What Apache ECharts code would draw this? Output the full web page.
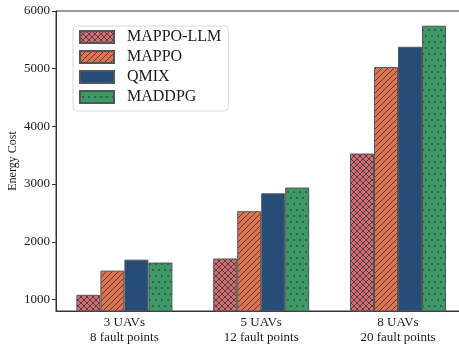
<!DOCTYPE html>
<html>
<head>
<meta charset="utf-8">
<script src="https://cdn.jsdelivr.net/npm/echarts@6/dist/echarts.min.js"></script>
<style>
html,body{margin:0;padding:0;background:#fff;}
#chart{width:459px;height:345px;}
</style>
</head>
<body>
<div id="chart"></div>
<script>
const categories = ['3 UAVs\n8 fault points', '5 UAVs\n12 fault points', '8 UAVs\n20 fault points'];
const seriesNames = ['MAPPO-LLM', 'MAPPO', 'QMIX', 'MADDPG'];
const mappoLLM = [1080, 1710, 3530];
const mappo = [1500, 2530, 5030];
const qmix = [1690, 2840, 5380];
const maddpg = [1640, 2940, 5745];
const yTicks = [1000, 2000, 3000, 4000, 5000, 6000];
const yAxisName = 'Energy Cost';

const FONT = '"Liberation Serif", "DejaVu Serif", serif';
const HATCH = '#454545';

function makePattern(bg, type) {
  const c = document.createElement('canvas');
  let w = 6, h = 6;
  if (type === '\\') { w = 12; h = 12; }
  if (type === '.') { w = 6; h = 12; }
  c.width = w; c.height = h;
  const ctx = c.getContext('2d');
  ctx.fillStyle = bg;
  ctx.fillRect(0, 0, w, h);
  ctx.strokeStyle = HATCH;
  ctx.fillStyle = HATCH;
  ctx.lineWidth = 1;
  if (type === 'x' || type === '/') {
    for (let k = -1; k <= 1; k++) {
      ctx.beginPath();
      ctx.moveTo(k * w, h); ctx.lineTo(k * w + w, 0);
      ctx.stroke();
    }
  }
  if (type === 'x' || type === '\\') {
    for (let k = -1; k <= 1; k++) {
      ctx.beginPath();
      ctx.moveTo(k * w, 0); ctx.lineTo(k * w + w, h);
      ctx.stroke();
    }
  }
  if (type === '.') {
    const pts = [[0, 0], [w, 0], [0, h], [w, h], [w / 2, h / 2]];
    pts.forEach(p => {
      ctx.beginPath();
      ctx.arc(p[0], p[1], 1.0, 0, Math.PI * 2);
      ctx.fill();
    });
  }
  return { image: c, repeat: 'repeat' };
}

const colors = ['#D8696F', '#E2714E', '#234E7C', '#3B9A66'];
const hatches = ['x', '/', '\\', '.'];
const values = [mappoLLM, mappo, qmix, maddpg];

const chart = echarts.init(document.getElementById('chart'), null, { renderer: 'canvas' });
chart.setOption({
  animation: false,
  backgroundColor: '#fff',
  textStyle: { fontFamily: FONT },
  grid: {
    left: 56, right: -7.4, top: 11, bottom: 34,
    containLabel: false,
    outerBoundsMode: 'none',
    show: true, borderColor: '#333', borderWidth: 1, backgroundColor: 'transparent'
  },
  legend: {
    orient: 'vertical',
    left: 73, top: 26,
    icon: 'rect',
    itemWidth: 34, itemHeight: 12, itemGap: 0,
    padding: [1, 7, 4, 6],
    borderColor: '#d8d8d8', borderWidth: 1, borderRadius: 4,
    backgroundColor: 'rgba(255,255,255,0.85)',
    textStyle: { fontFamily: FONT, fontSize: 16, color: '#1a1a1a', lineHeight: 20, padding: [0, 0, 0, 8] },
    data: seriesNames
  },
  xAxis: {
    type: 'category',
    data: categories,
    axisLine: { onZero: false, lineStyle: { color: '#333', width: 1 } },
    axisTick: { alignWithLabel: true, length: 4, lineStyle: { color: '#333' } },
    axisLabel: { fontFamily: FONT, fontSize: 13, color: '#1a1a1a', lineHeight: 15, margin: 4 },
    splitLine: { show: false }
  },
  yAxis: {
    type: 'value',
    min: 800, max: 6000,
    name: yAxisName,
    nameLocation: 'middle',
    nameGap: 37,
    nameMoveOverlap: false,
    nameTextStyle: { fontFamily: FONT, fontSize: 12, color: '#1a1a1a' },
    axisLine: { show: true, lineStyle: { color: '#333', width: 1 } },
    axisTick: { show: true, length: 4, customValues: yTicks, lineStyle: { color: '#333' } },
    axisLabel: { fontFamily: FONT, fontSize: 13, color: '#1a1a1a', margin: 6, customValues: yTicks,
      formatter: v => String(v) },
    splitLine: { show: false }
  },
  series: seriesNames.map((name, i) => ({
    name: name,
    type: 'bar',
    data: values[i],
    barWidth: 24,
    barGap: '0%',
    clip: true,
    itemStyle: {
      color: makePattern(colors[i], hatches[i]),
      borderColor: '#555',
      borderWidth: 1
    }
  }))
});
</script>
</body>
</html>
